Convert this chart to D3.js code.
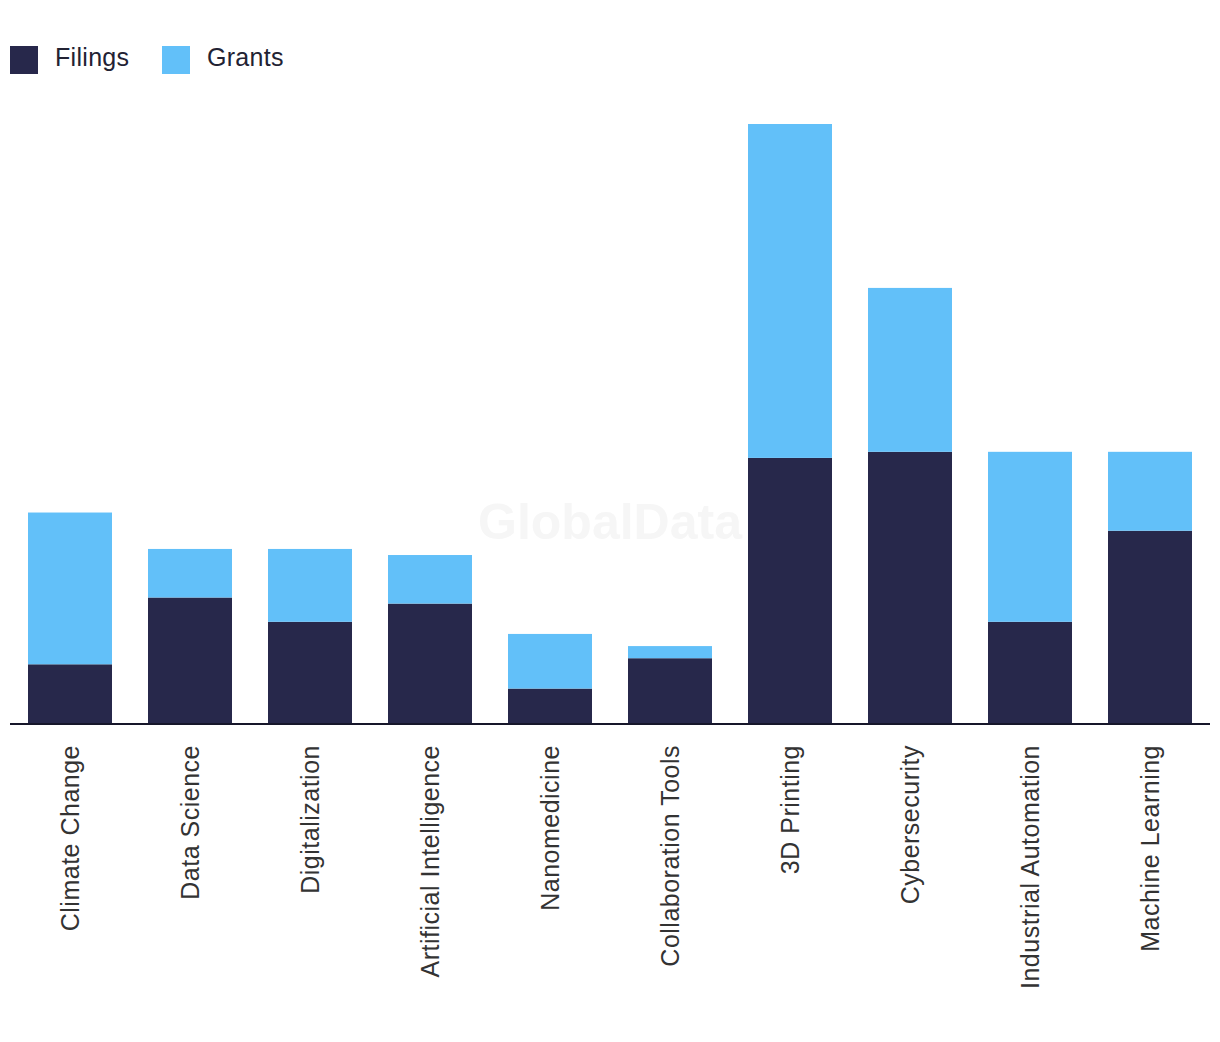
<!DOCTYPE html>
<html>
<head>
<meta charset="utf-8">
<script src="https://cdn.jsdelivr.net/npm/d3@7/dist/d3.min.js"></script>
<style>
  html, body { margin: 0; padding: 0; background: #ffffff; }
  svg { display: block; }
</style>
</head>
<body>
<svg id="chart" width="1220" height="1042"></svg>
<script>
const categories = ["Climate Change", "Data Science", "Digitalization", "Artificial Intelligence", "Nanomedicine", "Collaboration Tools", "3D Printing", "Cybersecurity", "Industrial Automation", "Machine Learning"];
const filings = [10, 21, 17, 20, 6, 11, 44, 45, 17, 32];
const grants  = [25, 8, 12, 8, 9, 2, 55, 27, 28, 13];
const seriesNames = ["Filings", "Grants"];
const seriesColors = ["#27284b", "#62c0f9"];

const svg = d3.select("#chart");
const baseY = 725;
const font = "'Liberation Sans', Arial, Helvetica, sans-serif";

const rows = categories.map((c, i) => ({ category: c, Filings: filings[i], Grants: grants[i] }));
const stacked = d3.stack().keys(seriesNames)(rows);
const maxTotal = d3.max(rows, d => d.Filings + d.Grants);

const x = d3.scaleBand().domain(categories).range([10, 1210]).paddingInner(0.3).paddingOuter(0.15);
const y = d3.scaleLinear().domain([0, maxTotal]).range([baseY, 124]);
const color = d3.scaleOrdinal().domain(seriesNames).range(seriesColors);

// watermark
svg.append("text")
  .attr("x", 610).attr("y", 539)
  .attr("text-anchor", "middle")
  .attr("font-family", font)
  .attr("font-weight", "bold")
  .attr("font-size", 50)
  .attr("fill", "#f6f6f6")
  .text("GlobalData");

// bars
svg.append("g").selectAll("g")
  .data(stacked)
  .join("g")
  .attr("fill", d => color(d.key))
  .selectAll("rect")
  .data(d => d)
  .join("rect")
  .attr("x", d => x(d.data.category))
  .attr("width", x.bandwidth())
  .attr("y", d => y(d[1]))
  .attr("height", d => y(d[0]) - y(d[1]));

// x axis
const xAxis = svg.append("g")
  .attr("transform", `translate(0,${baseY - 2})`)
  .call(d3.axisBottom(x).tickSize(0).tickPadding(0));
xAxis.select(".domain").attr("stroke", "#16162a").attr("stroke-width", 2).attr("d", `M10,1H1210`);
xAxis.selectAll(".tick text")
  .attr("font-family", font)
  .attr("font-size", 25)
  .attr("letter-spacing", 0.5)
  .attr("fill", "#333333")
  .attr("text-anchor", "end")
  .attr("transform", "rotate(-90)")
  .attr("x", -22)
  .attr("y", 0)
  .attr("dy", "0.35em");

// legend
const legend = svg.append("g");
const legendX = [10, 162];
seriesNames.forEach((s, i) => {
  const g = legend.append("g").attr("transform", `translate(${legendX[i]},46)`);
  g.append("rect").attr("width", 28).attr("height", 28).attr("fill", color(s));
  g.append("text")
    .attr("x", 45).attr("y", 20)
    .attr("font-family", font)
    .attr("font-size", 25)
    .attr("letter-spacing", 0.3)
    .attr("fill", "#222233")
    .text(s);
});
</script>
</body>
</html>
